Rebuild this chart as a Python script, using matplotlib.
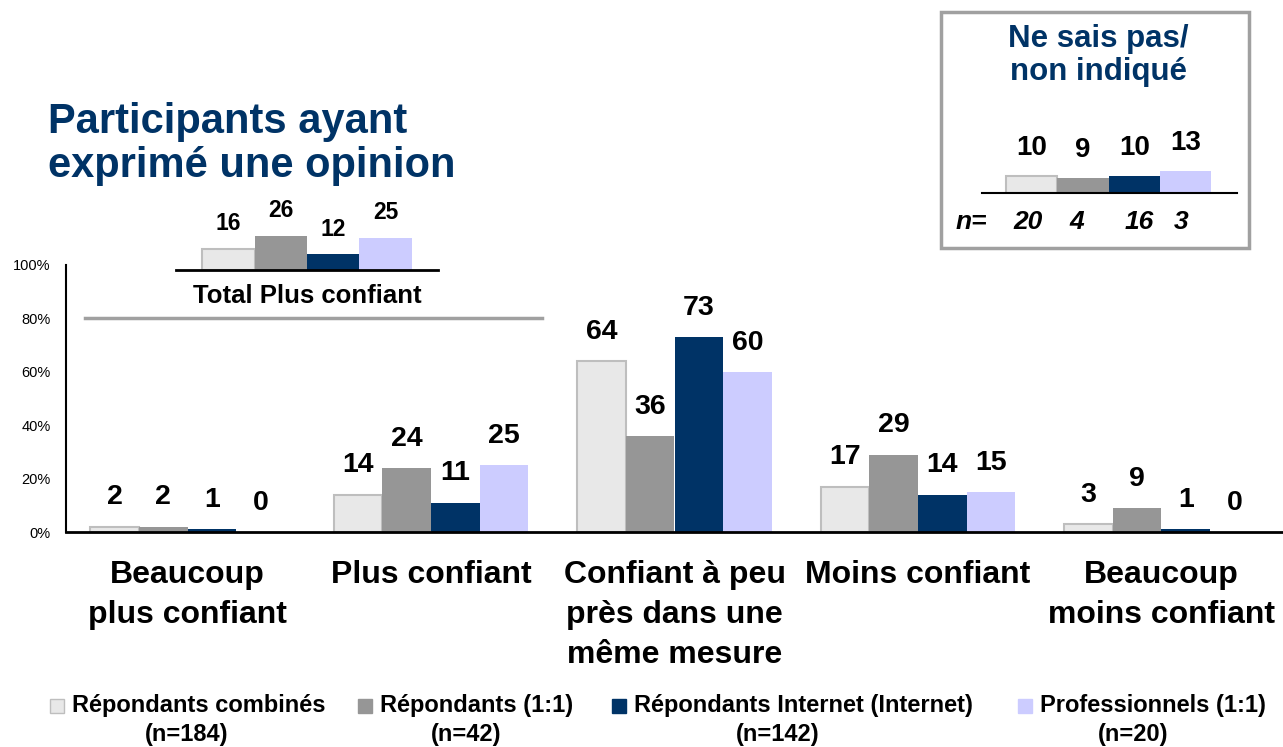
import numpy as np
import matplotlib
matplotlib.use("Agg")
import matplotlib.pyplot as plt
from matplotlib.patches import Rectangle
from matplotlib.lines import Line2D
from matplotlib.transforms import blended_transform_factory

plt.rcParams["font.family"] = ["Liberation Sans", "DejaVu Sans"]

# --- data ---
categories = ["Beaucoup\nplus confiant", "Plus confiant",
              "Confiant à peu\nprès dans une\nmême mesure",
              "Moins confiant", "Beaucoup\nmoins confiant"]
series_names = ["Répondants combinés", "Répondants (1:1)",
                "Répondants Internet (Internet)", "Professionnels (1:1)"]
series_n = ["(n=184)", "(n=42)", "(n=142)", "(n=20)"]
combines = [2, 14, 64, 17, 3]
repondants = [2, 24, 36, 29, 9]
internet = [1, 11, 73, 14, 1]
professionnels = [0, 25, 60, 15, 0]
total_plus = [16, 26, 12, 25]
ne_sais_pas = [10, 9, 10, 13]
ne_sais_pas_n = ["20", "4", "16", "3"]
yticks = [0, 20, 40, 60, 80, 100]
ytick_labels = ["0%", "20%", "40%", "60%", "80%", "100%"]

colors = ["#E8E8E8", "#969696", "#003366", "#CCCCFF"]
edges = ["#BEBEBE", "none", "none", "none"]
navy = "#003366"

W, H = 1283, 747
fig = plt.figure(figsize=(W / 100, H / 100), dpi=100)


def fx(px):
    return px / W


def fy(py):
    return 1 - py / H


# --- main chart ---
ax = fig.add_axes([fx(66), fy(532), fx(1283 - 66), (532 - 265) / H])
values = [combines, repondants, internet, professionnels]
x = np.arange(len(categories))
bw = 0.2
for i, vals in enumerate(values):
    pos = x + (i - 1.5) * bw
    bars = ax.bar(pos, vals, bw, color=colors[i], edgecolor=edges[i],
                  linewidth=1.5 if i == 0 else 0)
    for xp, v in zip(pos, vals):
        ax.annotate(str(v), (xp, v), xytext=(0, 16), textcoords="offset points",
                    ha="center", va="baseline", fontsize=20.5,
                    fontweight="bold", color="black")
ax.set_xlim(-0.5, 4.5)
ax.set_ylim(0, 100)
ax.set_yticks(yticks)
ax.set_yticklabels(ytick_labels, fontsize=10.5)
ax.tick_params(axis="y", length=0, pad=11)
ax.set_xticks([])
for s in ["top", "right"]:
    ax.spines[s].set_visible(False)
ax.spines["left"].set_linewidth(1.5)
ax.spines["bottom"].set_linewidth(2)
ax.set_facecolor("none")

# category labels, line by line
trans = blended_transform_factory(ax.transData, fig.transFigure)
for xi, cat in zip(x, categories):
    for j, line in enumerate(cat.split("\n")):
        ax.text(xi, fy(583 + 40 * j), line, transform=trans, ha="center",
                va="baseline", fontsize=23, fontweight="bold")

# grey separator line
fig.add_artist(Line2D([fx(85), fx(542)], [fy(318), fy(318)],
                      color="#A0A0A0", linewidth=2.5))

# --- title ---
fig.text(fx(48), fy(133), "Participants ayant", fontsize=30,
         fontweight="bold", color=navy, va="baseline")
fig.text(fx(48), fy(177), "exprimé une opinion", fontsize=30,
         fontweight="bold", color=navy, va="baseline")

# --- inset: Total Plus confiant ---
ax1 = fig.add_axes([fx(176), fy(270), fx(438 - 176), 60 / H])
ax1.bar(np.arange(4), total_plus, 1.0, color=colors, edgecolor=edges,
        linewidth=[1.5, 0, 0, 0])
for xi, v in enumerate(total_plus):
    ax1.annotate(str(v), (xi, v), xytext=(0, 13.5), textcoords="offset points",
                 ha="center", va="baseline", fontsize=16.5, fontweight="bold",
                 annotation_clip=False)
ax1.set_xlim(-1, 4)
ax1.set_ylim(0, 60 / 1.3)
ax1.axis("off")
ax1.add_line(Line2D([0, 1], [0, 0], transform=ax1.transAxes, color="black",
                    linewidth=2, clip_on=False))
fig.text(fx(307), fy(303), "Total Plus confiant", ha="center", va="baseline",
         fontsize=18.5, fontweight="bold")

# --- inset box: Ne sais pas ---
fig.add_artist(Rectangle((fx(941), fy(248)), fx(1249 - 941), (248 - 12) / H,
                         fill=False, edgecolor="#A0A0A0", linewidth=2.5))
fig.text(fx(1098), fy(47), "Ne sais pas/", ha="center", va="baseline",
         fontsize=22.5, fontweight="bold", color=navy)
fig.text(fx(1098), fy(80), "non indiqué", ha="center", va="baseline",
         fontsize=22.5, fontweight="bold", color=navy)

ax2 = fig.add_axes([fx(982), fy(193), fx(1237 - 982), 50 / H])
ax2.bar(np.arange(4), ne_sais_pas, 1.0, color=colors, edgecolor=edges,
        linewidth=[1.5, 0, 0, 0])
for xi, v in enumerate(ne_sais_pas):
    ax2.annotate(str(v), (xi, v), xytext=(0, 15), textcoords="offset points",
                 ha="center", va="baseline", fontsize=20, fontweight="bold",
                 annotation_clip=False)
ax2.set_xlim(-0.97, 4.0)
ax2.set_ylim(0, 50 / 1.7)
ax2.axis("off")
ax2.add_line(Line2D([0, 1], [0, 0], transform=ax2.transAxes, color="black",
                    linewidth=1.5, clip_on=False))
trans2 = blended_transform_factory(ax2.transData, fig.transFigure)
n_pos = [-0.07, 0.88, 2.09, 2.91]
for xp, n in zip(n_pos, ne_sais_pas_n):
    ax2.text(xp, fy(229), n, transform=trans2, ha="center", va="baseline",
             fontsize=19, fontweight="bold", style="italic")
fig.text(fx(956), fy(229), "n=", ha="left", va="baseline", fontsize=19,
         fontweight="bold", style="italic")

# --- legend ---
sq_left = [50, 358, 612, 1018]
n_center = [187, 466, 778, 1133]
for i in range(4):
    fig.add_artist(Rectangle((fx(sq_left[i]), fy(713)), fx(14), 14 / H,
                             facecolor=colors[i],
                             edgecolor="#BEBEBE" if i == 0 else colors[i],
                             linewidth=1))
    fig.text(fx(sq_left[i] + 22), fy(712), series_names[i], ha="left",
             va="baseline", fontsize=17, fontweight="bold")
    fig.text(fx(n_center[i]), fy(741), series_n[i], ha="center",
             va="baseline", fontsize=17, fontweight="bold")

fig.savefig("out.png", dpi=100)
